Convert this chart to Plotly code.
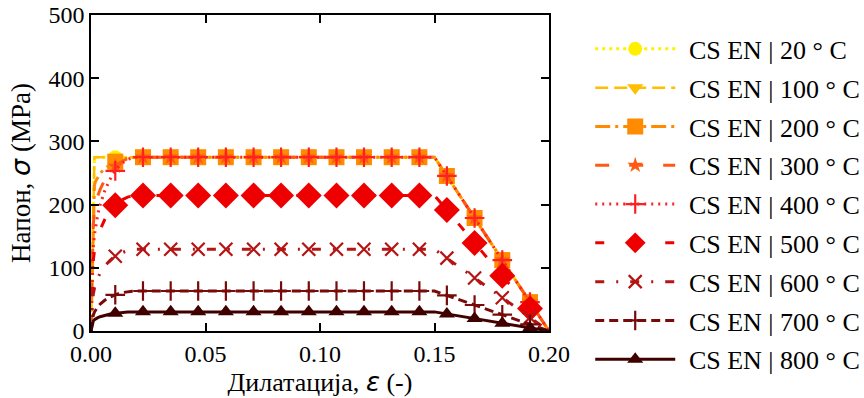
import plotly.graph_objects as go

# ---- data ----
strain = [0, 0.0005, 0.001, 0.0015, 0.002, 0.003, 0.004, 0.006, 0.008, 0.010,
          0.012, 0.014, 0.016, 0.018, 0.020, 0.150, 0.200]

stress_20 = [0, 105, 210, 275, 275, 275, 275, 275, 275, 275, 275, 275, 275, 275, 275, 275, 0]
stress_100 = [0, 105, 210, 275, 275, 275, 275, 275, 275, 275, 275, 275, 275, 275, 275, 275, 0]
stress_200 = [0, 94.5, 189.0, 231.1, 236.9, 244.3, 249.5, 257.1, 262.6, 266.8, 269.9, 272.2, 273.8, 274.7, 275, 275, 0]
stress_300 = [0, 84.0, 168.0, 190.1, 200.2, 214.1, 224.3, 239.3, 250.3, 258.5, 264.8, 269.4, 272.5, 274.4, 275, 275, 0]
stress_400 = [0, 73.5, 132.5, 152.2, 165.5, 184.9, 199.7, 221.8, 238.0, 250.3, 259.7, 266.5, 271.3, 274.1, 275, 275, 0]
stress_500 = [0, 63.0, 112.0, 126.3, 135.8, 149.8, 160.4, 176.3, 188.0, 196.8, 203.5, 208.4, 211.8, 213.8, 214.5, 214.5, 0]
stress_600 = [0, 32.6, 58.3, 67.8, 74.4, 84.1, 91.4, 102.5, 110.7, 116.9, 121.5, 125.0, 127.4, 128.8, 129.25, 129.25, 0]
stress_700 = [0, 13.65, 25.0, 30.0, 33.5, 38.7, 42.7, 48.7, 53.1, 56.5, 59.1, 60.9, 62.2, 63.0, 63.25, 63.25, 0]
stress_800 = [0, 9.45, 15.9, 17.8, 19.2, 21.1, 22.6, 24.8, 26.5, 27.7, 28.7, 29.4, 29.9, 30.2, 30.25, 30.25, 0]

marker_strain = [0.0106, 0.0227, 0.0348, 0.0468, 0.0589, 0.0710, 0.0830, 0.0951,
                 0.1072, 0.1192, 0.1313, 0.1434, 0.1554, 0.1675, 0.1796, 0.1917]

mk_20 = [275, 275, 275, 275, 275, 275, 275, 275, 275, 275, 275, 275, 245.3, 178.8, 112.2, 45.7]
mk_100 = [275, 275, 275, 275, 275, 275, 275, 275, 275, 275, 275, 275, 245.3, 178.8, 112.2, 45.7]
mk_200 = [267.8, 275, 275, 275, 275, 275, 275, 275, 275, 275, 275, 275, 245.3, 178.8, 112.2, 45.7]
mk_300 = [260.6, 275, 275, 275, 275, 275, 275, 275, 275, 275, 275, 275, 245.3, 178.8, 112.2, 45.7]
mk_400 = [253.4, 275, 275, 275, 275, 275, 275, 275, 275, 275, 275, 275, 245.3, 178.8, 112.2, 45.7]
mk_500 = [199.0, 214.5, 214.5, 214.5, 214.5, 214.5, 214.5, 214.5, 214.5, 214.5, 214.5, 214.5, 191.3, 139.4, 87.5, 35.6]
mk_600 = [118.4, 129.3, 129.3, 129.3, 129.3, 129.3, 129.3, 129.3, 129.3, 129.3, 129.3, 129.3, 115.3, 84.0, 52.7, 21.5]
mk_700 = [57.3, 63.3, 63.3, 63.3, 63.3, 63.3, 63.3, 63.3, 63.3, 63.3, 63.3, 63.3, 56.4, 41.1, 25.8, 10.5]
mk_800 = [28.1, 30.3, 30.3, 30.3, 30.3, 30.3, 30.3, 30.3, 30.3, 30.3, 30.3, 30.3, 27.0, 19.7, 12.3, 5.0]

labels = ["CS EN | 20 ° C", "CS EN | 100 ° C", "CS EN | 200 ° C", "CS EN | 300 ° C",
          "CS EN | 400 ° C", "CS EN | 500 ° C", "CS EN | 600 ° C", "CS EN | 700 ° C",
          "CS EN | 800 ° C"]
curves = [stress_20, stress_100, stress_200, stress_300, stress_400,
          stress_500, stress_600, stress_700, stress_800]
markers = [mk_20, mk_100, mk_200, mk_300, mk_400, mk_500, mk_600, mk_700, mk_800]

# ---- styles ----
colors = ["#FFF000", "#FFBE00", "#FF8C00", "#FF5A14", "#FF2020",
          "#EE0000", "#B41414", "#780A0A", "#400000"]
dashes = ["3px,4px", "13px,6px", "15px,5px,3px,5px", "14px,20px", "2px,5px",
          "9px,26px", "9px,12px,2px,12px", "9px,5px", "solid"]
symbols = ["circle", "triangle-down", "square", "star", "cross-thin-open",
           "diamond", "x-thin-open", "cross-thin-open", "triangle-up"]
sizes = [14, 14, 16, 12, 14, 20, 13, 14, 14]
widths = [3, 2.5, 3, 3, 3, 3, 3, 3, 3]

fig = go.Figure()
for i in range(9):
    open_sym = symbols[i].endswith("open")
    mk = dict(symbol=symbols[i], size=sizes[i], color=colors[i],
              line=dict(width=2.2 if open_sym else 0, color=colors[i]))
    fig.add_trace(go.Scatter(x=strain, y=curves[i], mode="lines",
                             line=dict(color=colors[i], width=widths[i], dash=dashes[i]),
                             showlegend=False, legendgroup=str(i), hoverinfo="skip"))
    fig.add_trace(go.Scatter(x=marker_strain, y=markers[i], mode="markers",
                             marker=mk, showlegend=False, legendgroup=str(i)))
    fig.add_trace(go.Scatter(x=[None], y=[None], mode="lines+markers",
                             name="\u00a0\u200a" + labels[i],
                             line=dict(color=colors[i], width=widths[i], dash=dashes[i]),
                             marker=mk, legendgroup=str(i)))

serif = "Liberation Serif, Times New Roman, serif"
fig.update_layout(
    width=864, height=398,
    margin=dict(l=91, r=315, t=15, b=67, autoexpand=False),
    paper_bgcolor="white", plot_bgcolor="white",
    font=dict(family=serif, size=25, color="black"),
    showlegend=True,
    legend=dict(x=1.09, xanchor="left", y=0.967, yanchor="top",
                traceorder="grouped", tracegroupgap=2, itemwidth=80,
                maxheight=398,
                font=dict(family=serif, size=26, color="black"),
                bgcolor="rgba(0,0,0,0)"),
    xaxis=dict(range=[0, 0.2], dtick=0.05, tickformat=".2f",
               ticks="inside", ticklen=8, tickwidth=1.5, tickcolor="black",
               showline=True, linecolor="black", linewidth=1.5, mirror="ticks",
               showgrid=False, zeroline=False,
               tickfont=dict(family=serif, size=24),
               title=dict(text='Дилатација, <span style="font-family:DejaVu Sans"><i>ε</i></span> (-)',
                          font=dict(family=serif, size=26), standoff=4)),
    yaxis=dict(range=[0, 500], dtick=100,
               ticks="inside", ticklen=8, tickwidth=1.5, tickcolor="black",
               showline=True, linecolor="black", linewidth=1.5, mirror="ticks",
               showgrid=False, zeroline=False,
               tickfont=dict(family=serif, size=24),
               title=dict(text='Напон, <span style="font-family:DejaVu Sans"><i>σ</i></span> (MPa)',
                          font=dict(family=serif, size=27), standoff=10)),
)
fig.write_html("out.html")
